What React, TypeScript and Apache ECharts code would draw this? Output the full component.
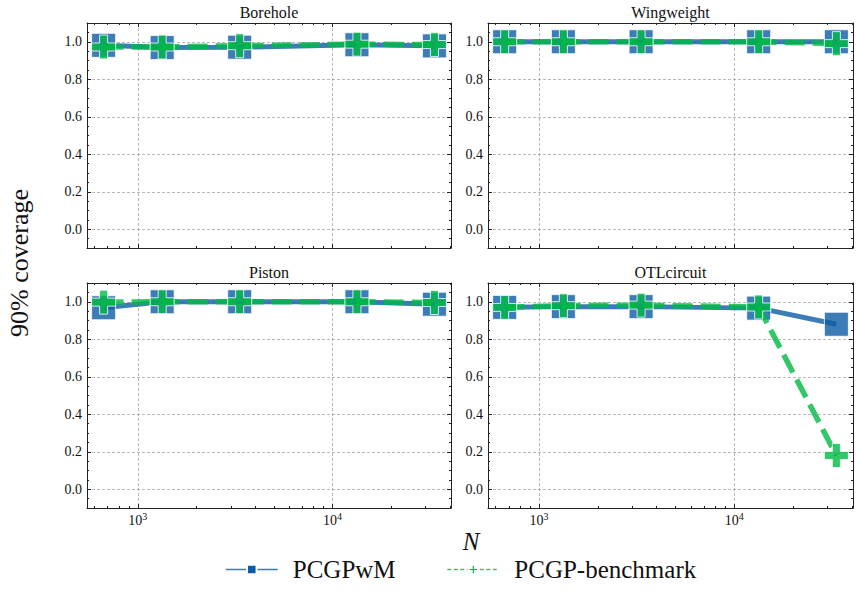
import React, { useEffect, useRef } from "react";
import * as echarts from "echarts";

// ---- data ----
const N = [667, 1333, 3333, 13333, 33333];
const panelTitles = ["Borehole", "Wingweight", "Piston", "OTLcircuit"];
const seriesNames = ["PCGPwM", "PCGP-benchmark"];

const boreholePCGPwM = [0.981, 0.969, 0.971, 0.984, 0.978];
const boreholeBenchmark = [0.972, 0.972, 0.979, 0.987, 0.985];
const wingweightPCGPwM = [1.0, 1.0, 1.0, 1.0, 1.0];
const wingweightBenchmark = [1.0, 1.0, 1.0, 1.0, 0.99];
const pistonPCGPwM = [0.968, 1.0, 1.0, 1.0, 0.987];
const pistonBenchmark = [0.998, 1.0, 1.0, 1.0, 0.996];
const otlPCGPwM = [0.97, 0.974, 0.974, 0.966, 0.88];
const otlBenchmark = [0.97, 0.979, 0.982, 0.972, 0.18];

const xMajorTicks = [1000, 10000];
const xMinorTicks = [600, 700, 800, 900, 2000, 3000, 4000, 5000, 6000, 7000, 8000, 9000, 20000, 30000, 40000];
const yMajorTicks = [0, 0.2, 0.4, 0.6, 0.8, 1.0];
const yMinorTicks = [-0.05, 0.05, 0.1, 0.15, 0.25, 0.3, 0.35, 0.45, 0.5, 0.55, 0.65, 0.7, 0.75, 0.85, 0.9, 0.95, 1.05];

const X_MIN = 548;
const X_MAX = 40550;
const Y_MIN = -0.1;
const Y_MAX = 1.1;

const panelData = [
  [boreholePCGPwM, boreholeBenchmark],
  [wingweightPCGPwM, wingweightBenchmark],
  [pistonPCGPwM, pistonBenchmark],
  [otlPCGPwM, otlBenchmark],
];

// ---- style ----
const FONT = "'Liberation Serif', 'DejaVu Serif', serif";
const BLUE = "#0C5DA5";
const GREEN = "#00B945";
const AXIS = "#222";
const PLUS = "path://M1,0H2V1H3V2H2V3H1V2H0V1H1Z";

const gridRects = [
  { left: 87, top: 23, width: 364, height: 225 },
  { left: 488, top: 23, width: 365, height: 225 },
  { left: 87, top: 283, width: 364, height: 225 },
  { left: 488, top: 283, width: 365, height: 225 },
];

function buildOption() {
  const grid: any[] = [];
  const xAxis: any[] = [];
  const yAxis: any[] = [];
  const series: any[] = [];
  const graphic: any[] = [];

  const tickLine = { color: AXIS, width: 1 };
  const splitStyle = { show: true, lineStyle: { color: "#8a8a8a", width: 0.6, type: [3, 2] } };

  gridRects.forEach((r, i) => {
    grid.push({ ...r, containLabel: false });
    const showX = i >= 2;
    const common = { gridIndex: i, min: X_MIN, max: X_MAX, type: "log", logBase: 10 };
    xAxis.push({
      ...common,
      position: "bottom",
      axisLine: { show: true, onZero: false, lineStyle: { color: AXIS, width: 1 } },
      axisTick: { show: true, inside: true, length: 4, customValues: xMajorTicks, lineStyle: tickLine },
      minorTick: { show: false },
      axisLabel: {
        show: showX,
        customValues: xMajorTicks,
        margin: 3,
        formatter: (v: number) => `{b|10}{s|${Math.round(Math.log10(v))}}`,
        rich: {
          b: { fontFamily: FONT, fontSize: 14, color: "#111", lineHeight: 16, verticalAlign: "bottom" },
          s: { fontFamily: FONT, fontSize: 10, color: "#111", lineHeight: 9, verticalAlign: "top" },
        },
      },
      splitLine: splitStyle,
    });
    xAxis.push({
      ...common,
      position: "bottom",
      axisLine: { show: false, onZero: false },
      axisTick: { show: true, inside: true, length: 2, customValues: xMinorTicks, lineStyle: tickLine },
      axisLabel: { show: false },
      splitLine: { show: false },
    });
    xAxis.push({
      ...common,
      position: "top",
      axisLine: { show: true, onZero: false, lineStyle: { color: AXIS, width: 1 } },
      axisTick: { show: true, inside: true, length: 4, customValues: xMajorTicks, lineStyle: tickLine },
      axisLabel: { show: false },
      splitLine: { show: false },
    });
    xAxis.push({
      ...common,
      position: "top",
      axisLine: { show: false, onZero: false },
      axisTick: { show: true, inside: true, length: 2, customValues: xMinorTicks, lineStyle: tickLine },
      axisLabel: { show: false },
      splitLine: { show: false },
    });

    const ycommon = { gridIndex: i, type: "value", min: Y_MIN, max: Y_MAX };
    yAxis.push({
      ...ycommon,
      position: "left",
      axisLine: { show: true, onZero: false, lineStyle: { color: AXIS, width: 1 } },
      axisTick: { show: true, inside: true, length: 4, customValues: yMajorTicks, lineStyle: tickLine },
      axisLabel: {
        show: true,
        customValues: yMajorTicks,
        margin: 5,
        fontFamily: FONT,
        fontSize: 14,
        color: "#111",
        formatter: (v: number) => v.toFixed(1),
      },
      splitLine: splitStyle,
    });
    yAxis.push({
      ...ycommon,
      position: "left",
      axisLine: { show: false, onZero: false },
      axisTick: { show: true, inside: true, length: 2, customValues: yMinorTicks, lineStyle: tickLine },
      axisLabel: { show: false },
      splitLine: { show: false },
    });
    yAxis.push({
      ...ycommon,
      position: "right",
      axisLine: { show: true, onZero: false, lineStyle: { color: AXIS, width: 1 } },
      axisTick: { show: true, inside: true, length: 4, customValues: yMajorTicks, lineStyle: tickLine },
      axisLabel: { show: false },
      splitLine: { show: false },
    });
    yAxis.push({
      ...ycommon,
      position: "right",
      axisLine: { show: false, onZero: false },
      axisTick: { show: true, inside: true, length: 2, customValues: yMinorTicks, lineStyle: tickLine },
      axisLabel: { show: false },
      splitLine: { show: false },
    });

    const [a, b] = panelData[i];
    series.push({
      name: seriesNames[0],
      type: "line",
      xAxisIndex: 4 * i,
      yAxisIndex: 4 * i,
      data: N.map((n, j) => [n, a[j]]),
      symbol: "rect",
      symbolSize: 24,
      lineStyle: { color: BLUE, width: 5, opacity: 0.8 },
      itemStyle: { color: BLUE, opacity: 0.8, borderColor: "#ffffff", borderWidth: 1 },
      emphasis: { disabled: true },
      clip: false,
      z: 3,
    });
    series.push({
      name: seriesNames[1],
      type: "line",
      xAxisIndex: 4 * i,
      yAxisIndex: 4 * i,
      data: N.map((n, j) => [n, b[j]]),
      symbol: PLUS,
      symbolSize: 24,
      lineStyle: { color: GREEN, width: 5.5, opacity: 0.8, type: [20, 8] },
      itemStyle: { color: GREEN, opacity: 0.8, borderColor: "#ffffff", borderWidth: 1 },
      emphasis: { disabled: true },
      clip: false,
      z: 4,
    });

    graphic.push({
      type: "text",
      x: r.left + r.width / 2,
      y: r.top - 11,
      style: {
        text: panelTitles[i],
        fontFamily: FONT,
        fontSize: 16,
        fill: "#111",
        textAlign: "center",
        textVerticalAlign: "middle",
      },
    });
  });

  graphic.push({
    type: "text",
    x: 19,
    y: 263,
    rotation: Math.PI / 2,
    style: {
      text: "90% coverage",
      fontFamily: FONT,
      fontSize: 26,
      fill: "#111",
      textAlign: "center",
      textVerticalAlign: "middle",
    },
  });
  graphic.push({
    type: "text",
    x: 471,
    y: 541,
    style: {
      text: "N",
      fontFamily: FONT,
      fontStyle: "italic",
      fontSize: 25,
      fill: "#111",
      textAlign: "center",
      textVerticalAlign: "middle",
    },
  });

  return {
    animation: false,
    backgroundColor: "#ffffff",
    grid,
    xAxis,
    yAxis,
    series,
    graphic,
    legend: {
      left: 220,
      top: 552,
      itemWidth: 52,
      itemHeight: 12,
      itemGap: 51,
      selectedMode: false,
      textStyle: { fontFamily: FONT, fontSize: 25, color: "#111", padding: [0, 0, 0, 10] },
      data: [
        { name: seriesNames[0], lineStyle: { width: 1.5, type: "solid" }, itemStyle: { opacity: 1 } },
        { name: seriesNames[1], lineStyle: { width: 1.5, type: [4, 2.5] }, itemStyle: { opacity: 1 } },
      ],
    },
  };
}

export default function App() {
  const ref = useRef<HTMLDivElement>(null);
  useEffect(() => {
    if (!ref.current) return;
    const chart = echarts.init(ref.current, undefined, { renderer: "svg" });
    chart.setOption(buildOption() as any);
    return () => chart.dispose();
  }, []);
  return (
    <div
      ref={ref}
      style={{ position: "fixed", left: 0, top: 0, width: 857, height: 594, background: "#fff" }}
    />
  );
}
